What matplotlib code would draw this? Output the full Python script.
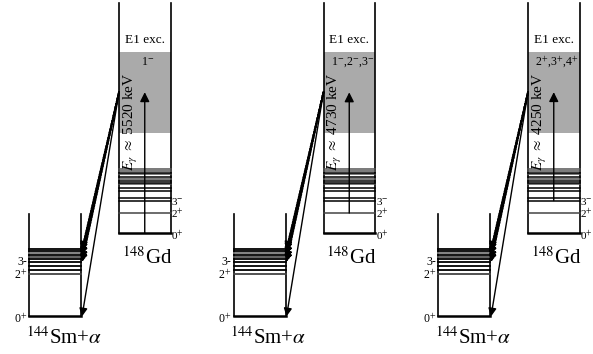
import numpy as np
import matplotlib.pyplot as plt

plt.rcParams['font.family'] = ['Liberation Serif', 'DejaVu Serif']
plt.rcParams['mathtext.fontset'] = 'stix'

# energies in keV, measured from the 148Gd ground state
Q_ALPHA = 3271          # 144Sm+alpha threshold lies this far below
E_GATE = 5520           # E1 excited region in 148Gd
E1_BAND = (3920, 7100)  # shaded excitation window

gd_levels = [0, 784, 1273, 1372, 1646, 1764, 1921, 1960, 2038, 2117, 2195, 2313, 2352, 2430, 2509]
gd_colors = ['k', '#444444', 'k', 'k', 'k', 'k', '#555555', 'k', 'k', '#555555', 'k', '#555555', 'k', '#555555', '#555555']
gd_names = [r"0$^{+}$", r"2$^{+}$", r"3$^{-}$"]

# 144Sm levels, relative to the 144Sm ground state
sm_levels = [0, 1660, 1810, 1976, 2132, 2250, 2328, 2407, 2485, 2564, 2642]
sm_colors = ['k', '#444444', 'k', 'k', 'k', 'k', '#555555', 'k', '#777777', 'k', 'k']
sm_names = [r"0$^{+}$", r"2$^{+}$", "3-"]
sm_fed = [2132, 2250, 2407, 2564, 2642]   # levels fed by the dotted alpha lines

# three cases: gamma energy, starting level in 148Gd, spins reached
e_gamma = [5520, 4730, 4250]
e_start = [0, 784, 1273]
spins = [r"1$^{-}$", r"1$^{-}$,2$^{-}$,3$^{-}$", r"2$^{+}$,3$^{+}$,4$^{+}$"]

fig = plt.figure(figsize=(5.93, 3.54), dpi=100)
ax = fig.add_axes([0, 0, 1, 1])
ax.set_xlim(0, 593)
ax.set_ylim(-4743, 9134)
ax.axis('off')

# spin labels are spread out so they do not collide
gd_label_y = [-110, 760, 1230]
sm_label_y = [-90, 1630, 2130]

dx = 204.5
for k in range(3):
    off = k * dx
    gx0, gx1 = 119 + off, 170.5 + off
    gxm = 0.5 * (gx0 + gx1)
    sx0, sx1 = 29 + off, 81 + off

    # 148Gd box
    ax.fill_between([gx0, gx1], E1_BAND[0], E1_BAND[1], color='#aaaaaa', lw=0, zorder=0)
    ax.plot([gx0, gx0], [0, 9000], color='k', lw=1.2)
    ax.plot([gx1, gx1], [0, 9000], color='k', lw=1.2)
    for e, c in zip(gd_levels, gd_colors):
        ax.plot([gx0, gx1], [e, e], color=c, lw=1.8 if e == 0 else 1.1)
    for y, t in zip(gd_label_y, gd_names):
        ax.text(gx1 + 0.5, y, t, fontsize=8, ha='left', va='center')
    ax.text(gxm, 7566, "E1 exc.", fontsize=9.5, ha='center', va='center')
    ax.text(gxm + 3, 6703, spins[k], fontsize=8.5, ha='center', va='center')
    ax.text(gxm + 2, -980, r"$^{148}$Gd", fontsize=15, ha='center', va='center')

    # gamma excitation arrow
    ax.annotate("", xy=(gxm, e_start[k] + e_gamma[k]), xytext=(gxm, e_start[k]),
                arrowprops=dict(arrowstyle='-|>', color='k', lw=1.0,
                                mutation_scale=14, shrinkA=0, shrinkB=0))
    ax.text(gx0 + 12, 4351, r"$E_{\gamma}$ $\approx$ %d keV" % e_gamma[k],
            fontsize=11, rotation=90, ha='center', va='center')

    # 144Sm+alpha box
    ax.plot([sx0, sx0], [-Q_ALPHA, 4000 - Q_ALPHA], color='k', lw=1.2)
    ax.plot([sx1, sx1], [-Q_ALPHA, 4000 - Q_ALPHA], color='k', lw=1.2)
    for e, c in zip(sm_levels, sm_colors):
        ax.plot([sx0, sx1], [e - Q_ALPHA, e - Q_ALPHA], color=c,
                lw=1.8 if e == 0 else 1.3)
    for y, t in zip(sm_label_y, sm_names):
        ax.text(sx0 - 2, y - Q_ALPHA, t, fontsize=8.5, ha='right', va='center')
    ax.text(sx0 + 35, -4116, r"$^{144}$Sm+$\alpha$", fontsize=15, ha='center', va='center')

    # alpha decay of the excited region
    for e in sm_fed:
        ax.annotate("", xy=(sx1 + 1, e - Q_ALPHA), xytext=(gx0, E_GATE),
                    arrowprops=dict(arrowstyle='-|>', color='k', lw=1.3,
                                    ls=(0, (0.8, 0.8)),
                                    mutation_scale=10, shrinkA=0, shrinkB=0))
    ax.annotate("", xy=(sx1 + 1, -Q_ALPHA), xytext=(gx0, E_GATE),
                arrowprops=dict(arrowstyle='-|>', color='k', lw=1.0,
                                mutation_scale=12, shrinkA=0, shrinkB=0))

fig.savefig("out.png", dpi=100)
